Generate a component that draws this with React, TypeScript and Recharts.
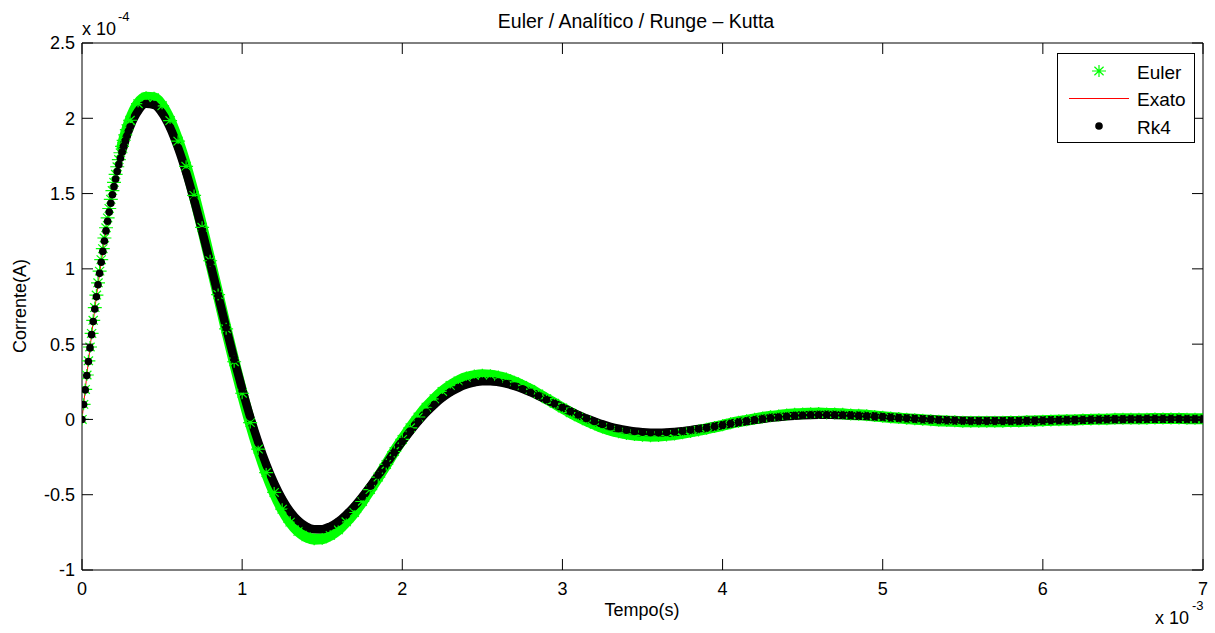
import React from 'react';
import { ComposedChart, Line, XAxis, YAxis } from 'recharts';

// tempo em ms (eixo x mostrado como x 10^-3 s)
const tempo = [
  0, 0.01, 0.02, 0.03, 0.04, 0.05, 0.06, 0.07, 0.08, 0.09, 0.1, 0.11, 0.12, 0.13, 0.14, 0.15,
  0.16, 0.17, 0.18, 0.19, 0.2, 0.21, 0.22, 0.23, 0.24, 0.25, 0.26, 0.27, 0.28, 0.29, 0.3,
  0.35, 0.4, 0.45, 0.5, 0.55, 0.6, 0.65, 0.7, 0.75, 0.8, 0.85, 0.9, 0.95, 1.0,
  1.05, 1.1, 1.15, 1.2, 1.25, 1.3, 1.35, 1.4, 1.45, 1.5, 1.55, 1.6, 1.65, 1.7, 1.75, 1.8, 1.85, 1.9, 1.95, 2.0,
  2.05, 2.1, 2.15, 2.2, 2.25, 2.3, 2.35, 2.4, 2.45, 2.5, 2.55, 2.6, 2.65, 2.7, 2.75, 2.8, 2.85, 2.9, 2.95, 3.0,
  3.05, 3.1, 3.15, 3.2, 3.25, 3.3, 3.35, 3.4, 3.45, 3.5, 3.55, 3.6, 3.65, 3.7, 3.75, 3.8, 3.85, 3.9, 3.95, 4.0,
  4.05, 4.1, 4.15, 4.2, 4.25, 4.3, 4.35, 4.4, 4.45, 4.5, 4.55, 4.6, 4.65, 4.7, 4.75, 4.8, 4.85, 4.9, 4.95, 5.0,
  5.05, 5.1, 5.15, 5.2, 5.25, 5.3, 5.35, 5.4, 5.45, 5.5, 5.55, 5.6, 5.65, 5.7, 5.75, 5.8, 5.85, 5.9, 5.95, 6.0,
  6.05, 6.1, 6.15, 6.2, 6.25, 6.3, 6.35, 6.4, 6.45, 6.5, 6.55, 6.6, 6.65, 6.7, 6.75, 6.8, 6.85, 6.9, 6.95, 7.0,
];

// corrente em unidades de 1e-4 A
const exato = [
  0, 0.099, 0.196, 0.291, 0.384, 0.475, 0.563, 0.65, 0.733, 0.815, 0.894, 0.97, 1.044, 1.116, 1.185, 1.252,
  1.316, 1.377, 1.436, 1.492, 1.546, 1.597, 1.646, 1.692, 1.735, 1.776, 1.815, 1.851, 1.884, 1.915, 1.943,
  2.048, 2.096, 2.089, 2.035, 1.938, 1.804, 1.642, 1.456, 1.253, 1.041, 0.825, 0.609, 0.4, 0.202,
  0.017, -0.15, -0.298, -0.424, -0.529, -0.612, -0.672, -0.711, -0.729, -0.729, -0.711, -0.679, -0.633, -0.578, -0.514, -0.444, -0.37, -0.295, -0.219, -0.146,
  -0.077, -0.012, 0.047, 0.099, 0.144, 0.181, 0.21, 0.232, 0.246, 0.254, 0.254, 0.248, 0.238, 0.222, 0.203, 0.181, 0.157, 0.131, 0.105, 0.079,
  0.053, 0.029, 0.006, -0.014, -0.033, -0.049, -0.062, -0.072, -0.08, -0.085, -0.088, -0.089, -0.087, -0.083, -0.078, -0.071, -0.064, -0.056, -0.047, -0.038,
  -0.028, -0.019, -0.011, -0.003, 0.004, 0.011, 0.016, 0.021, 0.025, 0.028, 0.03, 0.031, 0.031, 0.03, 0.029, 0.027, 0.025, 0.023, 0.02, 0.017,
  0.013, 0.01, 0.007, 0.004, 0.001, -0.001, -0.004, -0.006, -0.007, -0.009, -0.01, -0.01, -0.011, -0.011, -0.011, -0.01, -0.01, -0.009, -0.008, -0.007,
  -0.006, -0.005, -0.004, -0.003, -0.002, -0.001, 0.0, 0.001, 0.002, 0.002, 0.003, 0.003, 0.004, 0.004, 0.004, 0.004, 0.004, 0.003, 0.003, 0.003,
];

const euler = [
  0, 0.1, 0.199, 0.295, 0.389, 0.481, 0.571, 0.658, 0.743, 0.826, 0.907, 0.985, 1.061, 1.134, 1.205, 1.273,
  1.338, 1.401, 1.462, 1.52, 1.575, 1.628, 1.678, 1.726, 1.771, 1.813, 1.853, 1.89, 1.925, 1.957, 1.987,
  2.097, 2.14, 2.136, 2.083, 1.985, 1.848, 1.681, 1.488, 1.276, 1.054, 0.829, 0.602, 0.383, 0.174,
  -0.021, -0.197, -0.353, -0.485, -0.596, -0.682, -0.743, -0.78, -0.795, -0.792, -0.77, -0.733, -0.68, -0.618, -0.545, -0.466, -0.383, -0.299, -0.213, -0.133,
  -0.056, 0.016, 0.081, 0.137, 0.186, 0.225, 0.256, 0.278, 0.291, 0.297, 0.294, 0.285, 0.271, 0.25, 0.226, 0.199, 0.169, 0.138, 0.107, 0.076,
  0.045, 0.017, -0.009, -0.032, -0.054, -0.071, -0.085, -0.096, -0.104, -0.108, -0.111, -0.11, -0.106, -0.1, -0.092, -0.083, -0.073, -0.062, -0.051, -0.039,
  -0.026, -0.015, -0.006, 0.004, 0.013, 0.021, 0.026, 0.033, 0.037, 0.04, 0.041, 0.042, 0.04, 0.039, 0.037, 0.033, 0.031, 0.028, 0.023, 0.018,
  0.013, 0.009, 0.005, 0.001, -0.002, -0.005, -0.009, -0.011, -0.012, -0.015, -0.015, -0.015, -0.016, -0.015, -0.015, -0.013, -0.013, -0.011, -0.01, -0.008,
  -0.007, -0.005, -0.004, -0.003, -0.001, 0.0, 0.002, 0.002, 0.004, 0.004, 0.005, 0.005, 0.005, 0.006, 0.006, 0.006, 0.006, 0.005, 0.005, 0.005,
];

// RK4 coincide com a solução exata na resolução do gráfico
const rk4 = exato;

const xTicks = [0, 1, 2, 3, 4, 5, 6, 7];
const yTicks = [-1, -0.5, 0, 0.5, 1, 1.5, 2, 2.5];

const FONT = '"Liberation Sans", Arial, Helvetica, sans-serif';
const GREEN = '#00ff00';
const RED = '#ff0000';
const BAND_START = 0.25;
const TICK_LEN = 11;
const X_MARGIN = 12;
const Y_MARGIN = 7;

const rows = tempo.map((t, i) => ({
  t,
  euler: euler[i],
  exato: exato[i],
  rk4: rk4[i],
  eulerBand: t >= BAND_START ? euler[i] : null,
  rk4Band: t >= BAND_START ? rk4[i] : null,
}));

const asteriskPath = (cx: number, cy: number) =>
  `M${cx - 7},${cy}H${cx + 7}M${cx},${cy - 6}V${cy + 6}M${cx - 4.6},${cy - 4.3}L${cx + 4.6},${cy + 4.3}M${cx - 4.6},${cy + 4.3}L${cx + 4.6},${cy - 4.3}`;

function AsteriskDot(props: any) {
  const { cx, cy, index } = props;
  if (cx == null || cy == null) return <g key={`ea-${index}`} />;
  return <path key={`ea-${index}`} d={asteriskPath(cx, cy)} stroke={GREEN} strokeWidth={1.2} fill="none" />;
}

function BlackDot(props: any) {
  const { cx, cy, index } = props;
  if (cx == null || cy == null) return <g key={`rd-${index}`} />;
  return <circle key={`rd-${index}`} cx={cx} cy={cy} r={3.8} fill="#000" stroke="none" />;
}

// ticks desenhados para dentro (estilo MATLAB)
function BottomTick(p: any) {
  const { x, y, payload } = p;
  const axisY = y - X_MARGIN;
  return (
    <g>
      <line x1={x} x2={x} y1={axisY} y2={axisY - TICK_LEN} stroke="#000" strokeWidth={1} />
      <text x={x} y={y} dy="0.71em" textAnchor="middle" fontSize={18} fontFamily={FONT} fill="#000">
        {payload.value}
      </text>
    </g>
  );
}

function LeftTick(p: any) {
  const { x, y, payload } = p;
  const axisX = x + Y_MARGIN;
  return (
    <g>
      <line x1={axisX} x2={axisX + TICK_LEN} y1={y} y2={y} stroke="#000" strokeWidth={1} />
      <text x={x} y={y} dy="0.355em" textAnchor="end" fontSize={18} fontFamily={FONT} fill="#000">
        {payload.value}
      </text>
    </g>
  );
}

function TopTick(p: any) {
  const { x, y } = p;
  return <line x1={x} x2={x} y1={y} y2={y + TICK_LEN} stroke="#000" strokeWidth={1} />;
}

function RightTick(p: any) {
  const { x, y } = p;
  return <line x1={x} x2={x - TICK_LEN} y1={y} y2={y} stroke="#000" strokeWidth={1} />;
}

const axisLine = { stroke: '#000', strokeWidth: 1 };

export default function App() {
  return (
    <div style={{ position: 'absolute', left: 0, top: 0, width: 1215, height: 633, background: '#fff', fontFamily: FONT }}>
      <ComposedChart
        width={1215}
        height={633}
        data={rows}
        margin={{ top: 42, right: 11, bottom: 33, left: 22 }}
      >
        <XAxis
          xAxisId="b"
          dataKey="t"
          type="number"
          domain={[0, 7]}
          ticks={xTicks}
          interval={0}
          allowDataOverflow
          orientation="bottom"
          height={30}
          tickSize={0}
          tickMargin={X_MARGIN}
          axisLine={axisLine}
          tickLine={false}
          tick={BottomTick}
        />
        <XAxis
          xAxisId="t"
          dataKey="t"
          type="number"
          domain={[0, 7]}
          ticks={xTicks}
          interval={0}
          allowDataOverflow
          orientation="top"
          height={1}
          tickSize={0}
          tickMargin={0}
          axisLine={axisLine}
          tickLine={false}
          tick={TopTick}
        />
        <YAxis
          yAxisId="l"
          type="number"
          domain={[-1, 2.5]}
          ticks={yTicks}
          interval={0}
          allowDataOverflow
          width={60}
          tickSize={0}
          tickMargin={Y_MARGIN}
          axisLine={axisLine}
          tickLine={false}
          tick={LeftTick}
        />
        <YAxis
          yAxisId="r"
          type="number"
          orientation="right"
          domain={[-1, 2.5]}
          ticks={yTicks}
          interval={0}
          allowDataOverflow
          width={1}
          tickSize={0}
          tickMargin={0}
          axisLine={axisLine}
          tickLine={false}
          tick={RightTick}
        />
        <Line
          xAxisId="b"
          yAxisId="l"
          dataKey="eulerBand"
          type="monotone"
          stroke={GREEN}
          strokeWidth={11}
          strokeLinecap="round"
          strokeLinejoin="round"
          dot={false}
          activeDot={false}
          isAnimationActive={false}
        />
        <Line
          xAxisId="b"
          yAxisId="l"
          dataKey="euler"
          type="monotone"
          stroke="none"
          dot={AsteriskDot}
          activeDot={false}
          isAnimationActive={false}
        />
        <Line
          xAxisId="b"
          yAxisId="l"
          dataKey="exato"
          type="monotone"
          stroke={RED}
          strokeWidth={1}
          dot={false}
          activeDot={false}
          isAnimationActive={false}
        />
        <Line
          xAxisId="b"
          yAxisId="l"
          dataKey="rk4Band"
          type="monotone"
          stroke="#000"
          strokeWidth={8.5}
          strokeLinecap="round"
          strokeLinejoin="round"
          dot={false}
          activeDot={false}
          isAnimationActive={false}
        />
        <Line
          xAxisId="b"
          yAxisId="l"
          dataKey="rk4"
          type="monotone"
          stroke="none"
          dot={BlackDot}
          activeDot={false}
          isAnimationActive={false}
        />
      </ComposedChart>
      <svg
        width={1215}
        height={633}
        style={{ position: 'absolute', left: 0, top: 0, pointerEvents: 'none' }}
        fontFamily={FONT}
      >
        <text x={636} y={28} fontSize={19.5} textAnchor="middle" fill="#000">
          Euler / Analítico / Runge – Kutta
        </text>
        <text x={82} y={35} fontSize={18} fill="#000">x 10</text>
        <text x={118} y={21} fontSize={13} fill="#000">-4</text>
        <text x={1155} y={624} fontSize={18} fill="#000">x 10</text>
        <text x={1192} y={610} fontSize={13} fill="#000">-3</text>
        <text x={642} y={616} fontSize={18} textAnchor="middle" fill="#000">Tempo(s)</text>
        <text x={26} y={306} fontSize={18} textAnchor="middle" fill="#000" transform="rotate(-90 26 306)">
          Corrente(A)
        </text>
        <g>
          <rect x={1057.5} y={53.5} width={137} height={89} fill="#fff" stroke="#000" strokeWidth={1} />
          <path d={asteriskPath(1099, 71)} stroke={GREEN} strokeWidth={1.2} fill="none" />
          <text x={1137} y={78.5} fontSize={19} fill="#000">Euler</text>
          <line x1={1069} y1={98.5} x2={1129} y2={98.5} stroke={RED} strokeWidth={1} />
          <text x={1137} y={106} fontSize={19} fill="#000">Exato</text>
          <circle cx={1099} cy={126} r={3.8} fill="#000" />
          <text x={1137} y={133.5} fontSize={19} fill="#000">Rk4</text>
        </g>
      </svg>
    </div>
  );
}
